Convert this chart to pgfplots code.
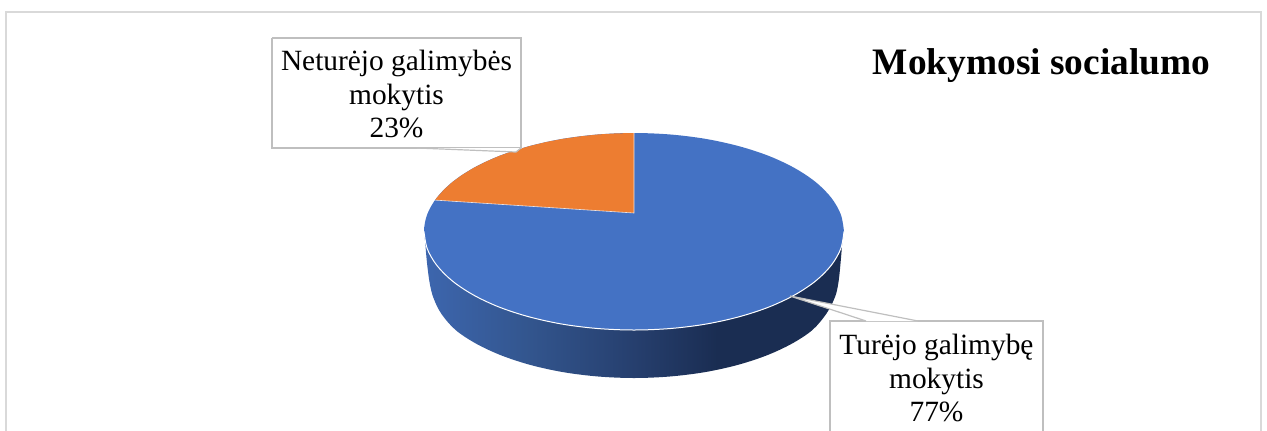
\documentclass[border=0pt]{standalone}
\usepackage{fontspec}
\setmainfont{Liberation Serif}
\usepackage{pgfplots}
\pgfplotsset{compat=1.18}

\definecolor{pieblue}{HTML}{4472C4}
\definecolor{pieorange}{HTML}{ED7D31}
\definecolor{framegray}{HTML}{D9D9D9}
\definecolor{boxgray}{HTML}{BFBFBF}
\definecolor{sideA}{HTML}{3D66AE}
\definecolor{sideB}{HTML}{33568F}
\definecolor{sideC}{HTML}{263F6E}
\definecolor{sideD}{HTML}{1A2D52}

\tikzset{lbl/.style={anchor=base, inner sep=0pt, font=\fontsize{29.5}{33}\selectfont}}

% side of the disc, light on the left and dark from about two thirds on
\pgfdeclarehorizontalshading{pieside}{100bp}{
  color(0bp)=(sideA);
  color(25bp)=(sideA);
  color(37bp)=(sideB);
  color(50bp)=(sideC);
  color(60bp)=(sideD);
  color(100bp)=(sideD)}

\begin{document}
\begin{tikzpicture}
\begin{axis}[
    x=1bp, y=1bp,
    scale only axis,
    axis line style={draw=none},
    xtick=\empty, ytick=\empty,
    y dir=reverse,
    xmin=0, xmax=1267,
    ymin=0, ymax=430
]
% outer frame, open at the bottom
\addplot[color=framegray, line width=2bp] coordinates {
    (6,431) (6,12) (1261,12) (1261,431)
};

% disc side
\addplot[draw=none, shade, shading=pieside, smooth, tension=0.55] coordinates {
    (843,232) (841,258) (838.5,282) (835,297) (826.5,313.5) (812.4,330)
    (791.8,343.7) (766.4,355.5) (737,365.1) (704.5,372.2) (669.8,376.5)
    (634,378) (598.2,376.5) (563.5,372.2) (531,365.1) (501.6,355.5)
    (476.2,343.7) (455.6,330) (441.5,314) (433.5,298) (429.5,282)
    (426.5,258) (424.5,232)
};

% blue slice, 77%: whole top of the disc, the orange slice lies over it
\addplot[fill=pieblue, draw=none, smooth, tension=0.55] coordinates {
    (844,231.5) (840.8,248.6) (831.3,265.2) (815.9,280.75) (794.9,294.8)
    (769,307) (739,316.8) (705.8,324.1) (670.5,328.5) (634,330)
    (597.5,328.5) (562.2,324.1) (529,316.8) (499,307) (473.1,294.8)
    (452.1,280.75) (436.7,265.2) (427.2,248.6) (424,231.5) (427.2,214.4)
    (436.7,197.8) (452.1,182.25) (473.1,168.2) (499,156) (529,146.2)
    (562.2,138.9) (597.5,134.5) (634,133) (670.5,134.5) (705.8,138.9)
    (739,146.2) (769,156) (794.9,168.2) (815.9,182.25) (831.3,197.8)
    (840.8,214.4) (844,231.5)
};

% orange slice, 23%
\addplot[fill=pieorange, draw=none] coordinates {
    (634,213) (435,200.1) (436.7,197.8) (443.7,189.9) (452.1,182.25)
    (462,175) (473.1,168.2) (485.5,161.85) (499,156) (513.5,150.8)
    (529,146.2) (545.3,142.2) (562.2,138.9) (579.7,136.4) (597.5,134.5)
    (615.7,133.4) (634,133) (634,213)
};

% light edges: slice borders and front rim
\addplot[color=white, line width=0.6bp, opacity=0.8] coordinates {
    (634,133) (634,213) (435,200.1)
};
\addplot[color=white, line width=1bp, smooth, tension=0.55] coordinates {
    (844,231.5) (840.8,248.6) (831.3,265.2) (815.9,280.75) (794.9,294.8)
    (769,307) (739,316.8) (705.8,324.1) (670.5,328.5) (634,330)
    (597.5,328.5) (562.2,324.1) (529,316.8) (499,307) (473.1,294.8)
    (452.1,280.75) (436.7,265.2) (427.2,248.6) (424,231.5)
};

% label boxes
\addplot[fill=white, draw=boxgray, line width=1.5bp] coordinates {
    (272,38) (521,38) (521,148) (272,148) (272,38)
};
\addplot[fill=white, draw=boxgray, line width=1.5bp] coordinates {
    (830,440) (830,321) (1043,321) (1043,440)
};

% leader wedges
\addplot[fill=white, draw=boxgray, line width=1.2bp] coordinates {
    (417,148) (516,152) (521,148)
};
\addplot[fill=white, draw=boxgray, line width=1.2bp] coordinates {
    (866,321) (790,296) (918,321)
};

\node[lbl] at (axis cs:396.5,70) {Neturėjo galimybės};
\node[lbl] at (axis cs:396.5,104) {mokytis};
\node[lbl] at (axis cs:396.5,137) {23\%};

\node[lbl] at (axis cs:936.5,354) {Turėjo galimybę};
\node[lbl] at (axis cs:936.5,388) {mokytis};
\node[lbl] at (axis cs:936.5,421) {77\%};

\node[anchor=base, inner sep=0pt, font=\fontsize{37.5}{40}\selectfont\bfseries]
    at (axis cs:1041.5,74) {Mokymosi socialumo};
\end{axis}
\end{tikzpicture}
\end{document}
